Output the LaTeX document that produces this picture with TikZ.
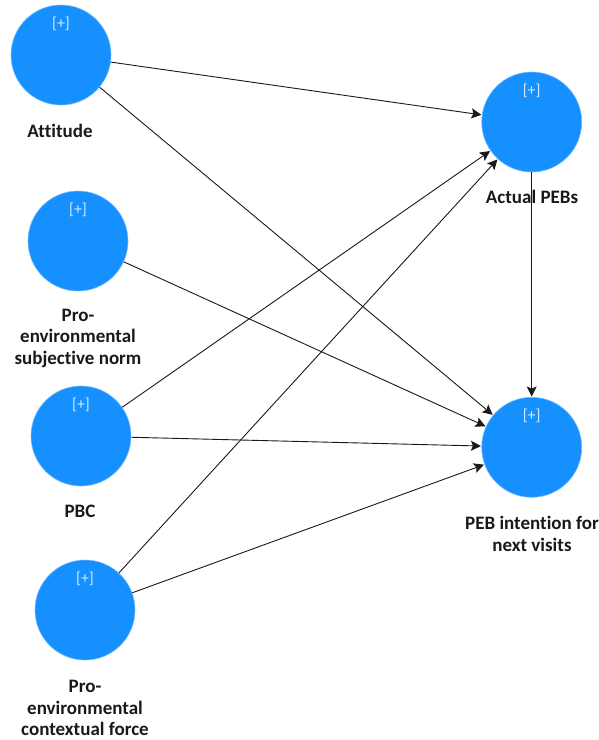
\documentclass[tikz,border=0pt]{standalone}
\usepackage{fontspec}
\setmainfont[Ligatures=NoCommon]{Carlito}
\usetikzlibrary{arrows.meta}
\definecolor{lvblue}{RGB}{22,144,255}
\definecolor{plusfg}{RGB}{215,232,255}
\tikzset{
  latent/.style={circle, fill=lvblue, draw=lvblue!60!white, line width=0.6pt, minimum size=100pt, inner sep=0pt},
  lvname/.style={font=\fontsize{19}{21.5}\selectfont\bfseries, align=center, inner sep=0pt, text=black!90},
  expander/.style={font=\fontsize{16}{18}\selectfont, text=plusfg, inner sep=0pt},
  path/.style={draw=black!90, line width=0.9pt, -{Stealth[length=10pt, width=10pt, inset=2pt]}, shorten >=0.5pt}
}
\begin{document}
\begin{tikzpicture}[x=1pt, y=-1pt]
\useasboundingbox (0,0) rectangle (599,740);

% latent variables
\node[latent] (att) at (61,55) {};
\node[latent] (sn)  at (78,241) {};
\node[latent] (pbc) at (81,436) {};
\node[latent] (cf)  at (85,610) {};
\node[latent] (act) at (531.7,122) {};
\node[latent] (int) at (531.7,447.3) {};

% expand markers
\foreach \n in {att,sn,pbc,cf,act,int}
  \node[expander] (\n-plus) at ([yshift=31pt]\n.center) {[+]};

% variable names
\node[lvname] (att-lab) at (60,131) {Attitude};
\node[lvname] (sn-lab)  at (78,338) {Pro-\\environmental\\subjective norm};
\node[lvname] (pbc-lab) at (80,511) {PBC};
\node[lvname] (cf-lab)  at (85,708) {Pro-\\environmental\\contextual force};
\node[lvname] (act-lab) at (532,197) {Actual PEBs};
\node[lvname] (int-lab) at (532,534) {PEB intention for\\next visits};

% structural paths
\draw[path] (att) -- (act);
\draw[path] (att) -- (int);
\draw[path] (sn)  -- (int);
\draw[path] (pbc) -- (act);
\draw[path] (pbc) -- (int);
\draw[path] (cf)  -- (act);
\draw[path] (cf)  -- (int);
\draw[path] (act) -- (int);
\end{tikzpicture}
\end{document}
